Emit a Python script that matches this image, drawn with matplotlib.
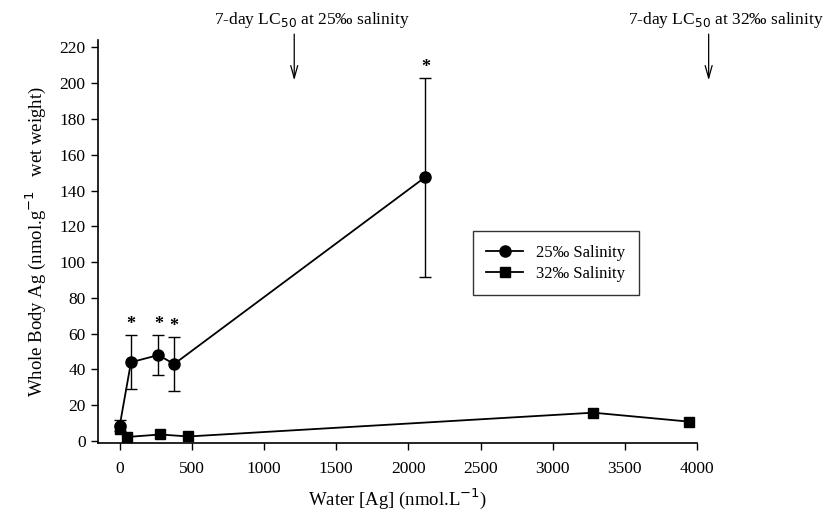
import matplotlib
matplotlib.use("Agg")
import matplotlib.pyplot as plt

plt.rcParams['font.family'] = ['Liberation Serif', 'DejaVu Serif']

# 25 per mil salinity series (circles)
x25 = [0, 78, 268, 377, 2117]
y25 = [8.5, 44, 48, 43, 147.5]
err25_low = [3, 15, 11, 15, 56]
err25_high = [3, 15, 11, 15, 55.5]
star_idx = [1, 2, 3, 4]

# 32 per mil salinity series (squares)
x32 = [0, 48, 280, 476, 3280, 3943]
y32 = [6.5, 2.2, 3.6, 2.5, 15.8, 10.8]

# LC50 annotations
lc50_x = [1209, 4080]
lc50_labels = ["7-day LC$_{50}$ at 25\u2030 salinity", "7-day LC$_{50}$ at 32\u2030 salinity"]

xticks = [0, 500, 1000, 1500, 2000, 2500, 3000, 3500, 4000]
yticks = list(range(0, 221, 20))

fig = plt.figure(figsize=(8.24, 5.16), dpi=100)
ax = fig.add_axes([0.119, 0.142, 0.727, 0.780])

ax.errorbar(x25, y25, yerr=[err25_low, err25_high], fmt='none', ecolor='black',
            elinewidth=1.0, capsize=4, capthick=1.0, zorder=2)
ax.plot(x25, y25, color='black', marker='o', markersize=8, linewidth=1.3,
        label="25\u2030 Salinity", zorder=3)
ax.plot(x32, y32, color='black', marker='s', markersize=7.5, linewidth=1.3,
        label="32\u2030 Salinity", zorder=3)

for i in star_idx:
    ax.text(x25[i], y25[i] + err25_high[i] + 6, "*", ha='center', va='center',
            fontsize=13, fontweight='bold')

ax.set_xlim(-150, 4000)
ax.set_ylim(-1, 224)
ax.set_xticks(xticks)
ax.set_yticks(yticks)
ax.spines['top'].set_visible(False)
ax.spines['right'].set_visible(False)
ax.spines['left'].set_linewidth(1.2)
ax.spines['bottom'].set_linewidth(1.2)
ax.tick_params(axis='both', direction='out', length=5, width=1.0, labelsize=12.5)
ax.tick_params(axis='x', pad=8)
ax.tick_params(axis='y', pad=4)

ax.set_xlabel("Water [Ag] (nmol.L$^{-1}$)", fontsize=13.5, labelpad=7)
ax.set_ylabel("Whole Body Ag (nmol.g$^{-1}$   wet weight)", fontsize=13.5, labelpad=8)

for xv, lab in zip(lc50_x, lc50_labels):
    ax.annotate("", xy=(xv, 200), xytext=(xv, 229), xycoords='data',
                arrowprops=dict(arrowstyle='->,head_length=0.9,head_width=0.25',
                                color='black', lw=0.9), annotation_clip=False)
    ax.text(xv + 120, 230, lab, ha='center', va='bottom', fontsize=12.5, clip_on=False)

leg = ax.legend(loc='upper left', bbox_to_anchor=(0.574, 0.552), bbox_transform=fig.transFigure,
                frameon=True, fancybox=False, edgecolor='black', fontsize=12,
                handlelength=2.2, borderpad=0.8, labelspacing=0.3, borderaxespad=0)
leg.get_frame().set_linewidth(1.0)

fig.savefig("out.png", dpi=100)
